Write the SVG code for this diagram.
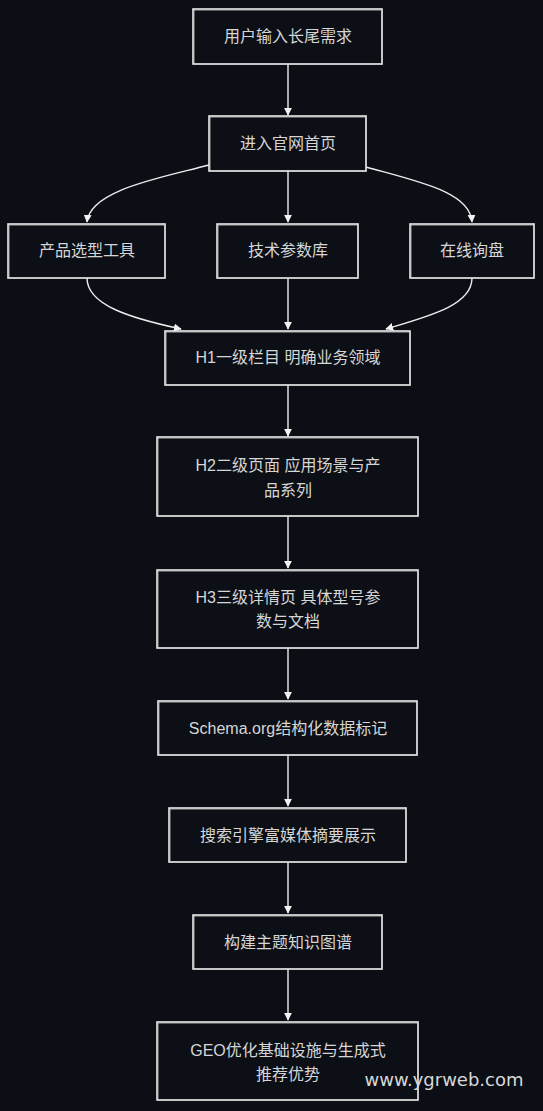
<svg xmlns="http://www.w3.org/2000/svg" width="543" height="1111" viewBox="0 0 543 1111">
<defs>
<marker id="ah" viewBox="0 0 10 10" refX="9" refY="5" markerWidth="8" markerHeight="8" markerUnits="userSpaceOnUse" orient="auto">
<path d="M0,0 L10,5 L0,10 z" fill="#f2f2f2"/>
</marker>
<style>
.box{fill:#0c0f15;stroke:#ececec;stroke-width:1.6}
.box2{fill:none;stroke:#cfcfcf;stroke-width:0.8}
.t{font-family:"Liberation Sans","Noto Sans CJK SC",sans-serif;font-size:16px;fill:#d6d6d6;text-anchor:middle}
.e{fill:none;stroke:#ececec;stroke-width:1.4;marker-end:url(#ah)}
</style>
</defs>
<rect width="543" height="1111" fill="#0b0e14"/>
<g id="connectors">
<path class="e" d="M288,64 L288,115"/>
<path class="e" d="M209,165 C160,178 90,190 87,222"/>
<path class="e" d="M288,171 L288,222"/>
<path class="e" d="M366,167 C420,182 470,192 472,222"/>
<path class="e" d="M87,278 C87,305 130,318 181,329"/>
<path class="e" d="M288,278 L288,329"/>
<path class="e" d="M472,278 C472,305 430,316 386,329"/>
<path class="e" d="M288,385 L288,436"/>
<path class="e" d="M288,516 L288,568"/>
<path class="e" d="M288,648 L288,699"/>
<path class="e" d="M288,755 L288,806"/>
<path class="e" d="M288,862 L288,913"/>
<path class="e" d="M288,969 L288,1020"/>
</g>
<g id="n1"><rect class="box" x="193" y="9" width="189" height="55"/><rect class="box2" x="194" y="10" width="188" height="54"/><text class="t" x="288" y="42">用户输入长尾需求</text></g>
<g id="n2"><rect class="box" x="209" y="116" width="157" height="55"/><rect class="box2" x="210" y="117" width="156" height="54"/><text class="t" x="288" y="149">进入官网首页</text></g>
<g id="n3"><rect class="box" x="8" y="224" width="157" height="54"/><rect class="box2" x="9" y="225" width="156" height="53"/><text class="t" x="87" y="256">产品选型工具</text></g>
<g id="n4"><rect class="box" x="217" y="224" width="141" height="54"/><rect class="box2" x="218" y="225" width="140" height="53"/><text class="t" x="288" y="256">技术参数库</text></g>
<g id="n5"><rect class="box" x="410" y="224" width="124" height="54"/><rect class="box2" x="411" y="225" width="123" height="53"/><text class="t" x="472" y="256">在线询盘</text></g>
<g id="n6"><rect class="box" x="165" y="331" width="245" height="54"/><rect class="box2" x="166" y="332" width="244" height="53"/><text class="t" x="288" y="363">H1一级栏目 明确业务领域</text></g>
<g id="n7"><rect class="box" x="157" y="437" width="261" height="79"/><rect class="box2" x="158" y="438" width="260" height="78"/><text class="t" x="288" y="471">H2二级页面 应用场景与产</text><text class="t" x="288" y="496">品系列</text></g>
<g id="n8"><rect class="box" x="157" y="570" width="261" height="78"/><rect class="box2" x="158" y="571" width="260" height="77"/><text class="t" x="288" y="603">H3三级详情页 具体型号参</text><text class="t" x="288" y="627">数与文档</text></g>
<g id="n9"><rect class="box" x="158" y="701" width="259" height="54"/><rect class="box2" x="159" y="702" width="258" height="53"/><text class="t" x="288" y="734">Schema.org结构化数据标记</text></g>
<g id="n10"><rect class="box" x="169" y="808" width="237" height="54"/><rect class="box2" x="170" y="809" width="236" height="53"/><text class="t" x="288" y="841">搜索引擎富媒体摘要展示</text></g>
<g id="n11"><rect class="box" x="193" y="915" width="189" height="54"/><rect class="box2" x="194" y="916" width="188" height="53"/><text class="t" x="288" y="948">构建主题知识图谱</text></g>
<g id="n12"><rect class="box" x="157" y="1022" width="261" height="78"/><rect class="box2" x="158" y="1023" width="260" height="77"/><text class="t" x="288" y="1056">GEO优化基础设施与生成式</text><text class="t" x="288" y="1080">推荐优势</text></g>
<text x="444" y="1086" style="font-family:'DejaVu Sans','Noto Sans',sans-serif;font-size:18px;fill:#d8d8d8;text-anchor:middle">www.ygrweb.com</text>
</svg>
